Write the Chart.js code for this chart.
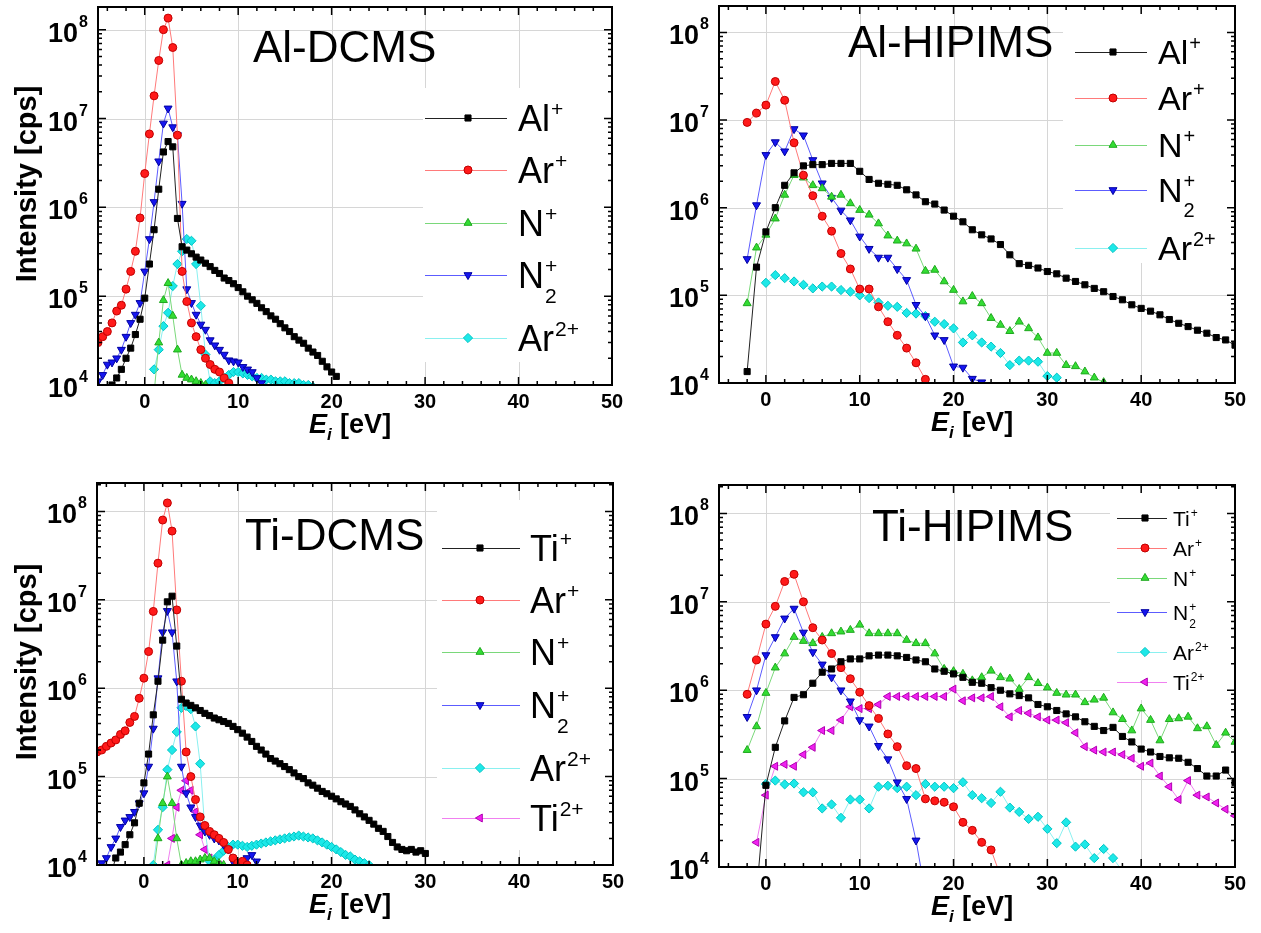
<!DOCTYPE html>
<html>
<head>
<meta charset="utf-8">
<script src="https://cdn.jsdelivr.net/npm/chart.js@4.4.0/dist/chart.umd.min.js"></script>
<style>
  body { margin: 0; background: #fff; width: 1261px; height: 933px; position: relative; overflow: hidden; }
  canvas { position: absolute; }
</style>
</head>
<body>
<canvas id="alDcms" width="630" height="465" style="left:0;top:0"></canvas>
<canvas id="alHip" width="631" height="465" style="left:630px;top:0"></canvas>
<canvas id="tiDcms" width="630" height="468" style="left:0;top:465px"></canvas>
<canvas id="tiHip" width="631" height="468" style="left:630px;top:465px"></canvas>
<script>
// axis ticks
const X_MIN = -5, X_MAX = 50, Y_MIN = 1e4;
const xTickValues = [0, 10, 20, 30, 40, 50];
const yTickValues = [1e4, 1e5, 1e6, 1e7, 1e8];

// ---- Al-DCMS : [E_i (eV), intensity (cps)] ----
const alDcmsAlPlus = [[-4,9.0e3],[-3.5,1.0e4],[-3,1.2e4],[-2.5,1.5e4],[-2,2.0e4],[-1.5,2.6e4],[-1,3.7e4],[-0.5,5.5e4],[0,9.5e4],[0.5,2.3e5],[1,5.6e5],[1.5,1.6e6],[2,4.2e6],[2.5,5.5e6],[3,4.8e6],[3.5,7.5e5],[4,3.6e5],[4.5,3.3e5],[5,3.0e5],[5.5,2.75e5],[6,2.55e5],[6.5,2.35e5],[7,2.15e5],[7.5,1.95e5],[8,1.8e5],[8.5,1.6e5],[9,1.5e5],[9.5,1.38e5],[10,1.25e5],[10.5,1.12e5],[11,1.0e5],[11.5,9.1e4],[12,8.3e4],[12.5,7.4e4],[13,6.7e4],[13.5,6.0e4],[14,5.5e4],[14.5,4.9e4],[15,4.4e4],[15.5,4.0e4],[16,3.5e4],[16.5,3.2e4],[17,2.95e4],[17.5,2.6e4],[18,2.35e4],[18.5,2.15e4],[19,1.85e4],[19.5,1.6e4],[20,1.4e4],[20.5,1.25e4]];
const alDcmsArPlus = [[-5,3.0e4],[-4.5,3.5e4],[-4,4.0e4],[-3.5,5.0e4],[-3,6.8e4],[-2.5,7.9e4],[-2,1.2e5],[-1.5,1.9e5],[-1,3.2e5],[-0.5,7.6e5],[0,2.4e6],[0.5,6.7e6],[1,1.8e7],[1.5,4.5e7],[2,1.0e8],[2.5,1.35e8],[3,6.3e7],[3.5,6.5e6],[4,1.9e5],[4.5,8.7e4],[5,5.0e4],[5.5,3.5e4],[6,2.5e4],[6.5,2.0e4],[7,1.7e4],[7.5,1.5e4],[8,1.4e4],[8.5,1.2e4],[9,1.05e4],[9.5,9.0e3]];
const alDcmsNPlus = [[1,8.0e3],[1.5,3.0e4],[2,9.0e4],[2.5,1.4e5],[3,6.0e4],[3.5,2.5e4],[4,1.3e4],[4.5,1.2e4],[5,1.15e4],[5.5,1.1e4],[6,1.05e4],[6.5,1.0e4]];
const alDcmsN2Plus = [[-5,1.1e4],[-4.5,1.3e4],[-4,1.7e4],[-3.5,1.8e4],[-3,2.0e4],[-2.5,2.5e4],[-2,3.5e4],[-1.5,5.0e4],[-1,6.2e4],[-0.5,8.4e4],[0,1.9e5],[0.5,4.4e5],[1,1.15e6],[1.5,3.3e6],[2,8.8e6],[2.5,1.3e7],[3,8.0e6],[3.5,6.5e6],[4,1.1e6],[4.5,1.2e5],[5,8.4e4],[5.5,6.2e4],[6,4.8e4],[6.5,4.2e4],[7,3.2e4],[7.5,2.8e4],[8,2.5e4],[8.5,2.2e4],[9,1.9e4],[9.5,1.85e4],[10,1.8e4],[10.5,1.6e4],[11,1.5e4],[11.5,1.4e4],[12,1.2e4],[12.5,1.05e4]];
const alDcmsAr2Plus = [[1,1.5e4],[1.5,2.5e4],[2,4.6e4],[2.5,6.5e4],[3,1.3e5],[3.5,2.3e5],[4,3.2e5],[4.5,4.4e5],[5,4.2e5],[5.5,2.3e5],[6,7.8e4],[6.5,2.2e4],[7,1.1e4],[7.5,1.05e4],[8,1.1e4],[8.5,1.2e4],[9,1.3e4],[9.5,1.4e4],[10,1.4e4],[10.5,1.35e4],[11,1.3e4],[11.5,1.25e4],[12,1.2e4],[12.5,1.2e4],[13,1.15e4],[13.5,1.15e4],[14,1.1e4],[14.5,1.1e4],[15,1.1e4],[15.5,1.05e4],[16,1.05e4],[16.5,1.05e4],[17,1.0e4],[17.5,1.0e4],[18,9.5e3]];

// ---- Al-HIPIMS ----
const alHipAlPlus = [[-2,1.35e4],[-1,2.1e5],[0,5.3e5],[1,1.0e6],[2,1.8e6],[3,2.5e6],[4,3.0e6],[5,3.1e6],[6,3.1e6],[7,3.2e6],[8,3.2e6],[9,3.2e6],[10,2.6e6],[11,2.1e6],[12,1.9e6],[13,1.85e6],[14,1.8e6],[15,1.6e6],[16,1.4e6],[17,1.17e6],[18,1.1e6],[19,9.4e5],[20,8.0e5],[21,6.9e5],[22,5.6e5],[23,4.9e5],[24,4.4e5],[25,3.8e5],[26,2.9e5],[27,2.3e5],[28,2.2e5],[29,2.05e5],[30,1.87e5],[31,1.76e5],[32,1.57e5],[33,1.44e5],[34,1.32e5],[35,1.2e5],[36,1.1e5],[37,9.7e4],[38,8.9e4],[39,7.8e4],[40,7.1e4],[41,6.6e4],[42,6.0e4],[43,5.3e4],[44,4.8e4],[45,4.4e4],[46,4.0e4],[47,3.7e4],[48,3.3e4],[49,3.1e4],[50,2.7e4]];
const alHipArPlus = [[-2,9.4e6],[-1,1.2e7],[0,1.48e7],[1,2.75e7],[2,1.68e7],[3,5.5e6],[4,2.35e6],[5,1.37e6],[6,8.0e5],[7,5.4e5],[8,3.0e5],[9,2.0e5],[10,1.18e5],[11,1.18e5],[12,7.4e4],[13,5.0e4],[14,3.5e4],[15,2.5e4],[16,1.7e4],[17,1.1e4],[18,7.0e3]];
const alHipNPlus = [[-2,8.1e4],[-1,3.5e5],[0,4.9e5],[1,7.5e5],[2,1.4e6],[3,2.35e6],[4,2.2e6],[5,1.8e6],[6,1.66e6],[7,1.33e6],[8,1.4e6],[9,1.12e6],[10,9.4e5],[11,8.3e5],[12,6.6e5],[13,4.8e5],[14,4.2e5],[15,3.9e5],[16,3.4e5],[17,1.9e5],[18,1.95e5],[19,1.44e5],[20,1.15e5],[21,8.5e4],[22,9.8e4],[23,8.1e4],[24,5.5e4],[25,4.6e4],[26,3.9e4],[27,5.0e4],[28,4.2e4],[29,3.3e4],[30,2.2e4],[31,2.2e4],[32,1.6e4],[33,1.55e4],[34,1.35e4],[35,1.15e4],[36,1.02e4],[37,9.0e3]];
const alHipN2Plus = [[-2,2.6e5],[-1,1.07e6],[0,4.0e6],[1,5.6e6],[2,4.4e6],[3,7.9e6],[4,6.7e6],[5,3.5e6],[6,1.9e6],[7,1.3e6],[8,9.3e5],[9,7.2e5],[10,4.7e5],[11,3.4e5],[12,2.7e5],[13,2.7e5],[14,2.0e5],[15,1.5e5],[16,7.8e4],[17,5.8e4],[18,3.5e4],[19,3.1e4],[20,1.55e4],[21,1.5e4],[22,1.12e4],[23,1.02e4],[24,9.0e3]];
const alHipAr2Plus = [[0,1.39e5],[1,1.7e5],[2,1.57e5],[3,1.44e5],[4,1.32e5],[5,1.2e5],[6,1.26e5],[7,1.26e5],[8,1.15e5],[9,1.1e5],[10,1.0e5],[11,9.3e4],[12,8.3e4],[13,7.6e4],[14,7.4e4],[15,6.3e4],[16,6.2e4],[17,5.8e4],[18,5.0e4],[19,4.7e4],[20,4.2e4],[21,2.9e4],[22,3.5e4],[23,2.9e4],[24,2.6e4],[25,2.2e4],[26,1.6e4],[27,1.8e4],[28,1.8e4],[29,1.75e4],[30,1.2e4],[31,1.15e4],[32,9.0e3]];

// ---- Ti-DCMS ----
const tiDcmsTiPlus = [[-3.5,8.0e3],[-3,1.2e4],[-2.5,1.4e4],[-2,1.7e4],[-1.5,2.2e4],[-1,3.0e4],[-0.5,5.0e4],[0,8.5e4],[0.5,1.8e5],[1,5.0e5],[1.5,1.2e6],[2,3.5e6],[2.5,9.5e6],[3,1.1e7],[3.5,3.0e6],[4,7.5e5],[4.5,6.8e5],[5,6.4e5],[5.5,6.0e5],[6,5.6e5],[6.5,5.2e5],[7,4.9e5],[7.5,4.6e5],[8,4.4e5],[8.5,4.2e5],[9,4.0e5],[9.5,3.7e5],[10,3.4e5],[10.5,3.1e5],[11,2.8e5],[11.5,2.5e5],[12,2.2e5],[12.5,2.0e5],[13,1.8e5],[13.5,1.6e5],[14,1.5e5],[14.5,1.4e5],[15,1.3e5],[15.5,1.2e5],[16,1.1e5],[16.5,1.0e5],[17,9.5e4],[17.5,8.5e4],[18,8.0e4],[18.5,7.4e4],[19,6.8e4],[19.5,6.4e4],[20,6.0e4],[20.5,5.6e4],[21,5.2e4],[21.5,4.9e4],[22,4.6e4],[22.5,4.2e4],[23,3.8e4],[23.5,3.5e4],[24,3.2e4],[24.5,2.9e4],[25,2.6e4],[25.5,2.4e4],[26,2.1e4],[26.5,1.8e4],[27,1.6e4],[27.5,1.5e4],[28,1.45e4],[28.5,1.5e4],[29,1.4e4],[29.5,1.45e4],[30,1.35e4]];
const tiDcmsArPlus = [[-5,1.9e5],[-4.5,2.0e5],[-4,2.2e5],[-3.5,2.4e5],[-3,2.6e5],[-2.5,3.0e5],[-2,3.3e5],[-1.5,4.1e5],[-1,4.8e5],[-0.5,7.7e5],[0,1.3e6],[0.5,2.6e6],[1,7.4e6],[1.5,2.6e7],[2,8.0e7],[2.5,1.25e8],[3,6.0e7],[3.5,7.7e6],[4,1.2e6],[4.5,1.9e5],[5,1.0e5],[5.5,5.5e4],[6,3.5e4],[6.5,2.8e4],[7,2.4e4],[7.5,2.2e4],[8,2.0e4],[8.5,1.8e4],[9,1.5e4],[9.5,1.2e4],[10,1.05e4],[10.5,1.1e4],[11,1.0e4]];
const tiDcmsNPlus = [[1,8.0e3],[1.5,2.0e4],[2,5.0e4],[2.5,1.0e5],[3,5.0e4],[3.5,2.0e4],[4,1.0e4],[4.5,1.05e4],[5,1.1e4],[5.5,1.1e4],[6,1.15e4],[6.5,1.2e4],[7,1.2e4],[7.5,1.1e4],[8,1.05e4],[8.5,1.0e4]];
const tiDcmsN2Plus = [[-5,9.0e3],[-4.5,1.05e4],[-4,1.2e4],[-3.5,1.6e4],[-3,2.0e4],[-2.5,2.7e4],[-2,3.2e4],[-1.5,3.5e4],[-1,4.0e4],[-0.5,5.0e4],[0,6.5e4],[0.5,1.3e5],[1,3.5e5],[1.5,1.3e6],[2,4.3e6],[2.5,7.5e6],[3,4.3e6],[3.5,1.2e6],[4,1.3e5],[4.5,6.5e4],[5,4.5e4],[5.5,3.5e4],[6,2.8e4],[6.5,2.4e4],[7,2.2e4],[7.5,2.0e4],[8,1.9e4],[8.5,1.7e4],[9,1.5e4],[9.5,1.1e4],[10,1.0e4],[10.5,1.05e4],[11,1.2e4],[11.5,1.3e4],[12,1.1e4]];
const tiDcmsAr2Plus = [[1,1.0e4],[1.5,2.5e4],[2,4.5e4],[2.5,1.2e5],[3,2.0e5],[3.5,3.2e5],[4,6.0e5],[4.5,6.3e5],[5,5.8e5],[5.5,3.7e5],[6,1.4e5],[6.5,2.5e4],[7,1.1e4],[7.5,1.15e4],[8,1.3e4],[8.5,1.45e4],[9,1.6e4],[9.5,1.7e4],[10,1.7e4],[10.5,1.65e4],[11,1.6e4],[11.5,1.65e4],[12,1.7e4],[12.5,1.75e4],[13,1.8e4],[13.5,1.85e4],[14,1.9e4],[14.5,1.95e4],[15,2.0e4],[15.5,2.05e4],[16,2.1e4],[16.5,2.15e4],[17,2.1e4],[17.5,2.05e4],[18,2.0e4],[18.5,1.9e4],[19,1.8e4],[19.5,1.7e4],[20,1.6e4],[20.5,1.5e4],[21,1.4e4],[21.5,1.3e4],[22,1.25e4],[22.5,1.15e4],[23,1.1e4],[23.5,1.05e4],[24,1.0e4]];
const tiDcmsTi2Plus = [[2.5,1.0e4],[3,2.0e4],[3.5,4.5e4],[4,7.0e4],[4.5,9.0e4],[5,7.0e4],[5.5,4.0e4],[6,2.2e4],[6.5,1.5e4],[7,1.2e4],[7.5,1.1e4],[8,1.0e4]];

// ---- Ti-HIPIMS ----
const tiHipTiPlus = [[-1,5.0e3],[0,8.4e4],[1,2.26e5],[2,4.5e5],[3,8.3e5],[4,8.9e5],[5,1.2e6],[6,1.6e6],[7,1.74e6],[8,2.1e6],[9,2.26e6],[10,2.26e6],[11,2.45e6],[12,2.5e6],[13,2.5e6],[14,2.45e6],[15,2.35e6],[16,2.2e6],[17,2.1e6],[18,1.74e6],[19,1.64e6],[20,1.53e6],[21,1.4e6],[22,1.23e6],[23,1.2e6],[24,1.07e6],[25,1.0e6],[26,9.1e5],[27,8.7e5],[28,8.2e5],[29,6.9e5],[30,6.5e5],[31,5.9e5],[32,5.4e5],[33,5.0e5],[34,4.4e5],[35,3.9e5],[36,3.5e5],[37,3.8e5],[38,3.0e5],[39,2.6e5],[40,2.16e5],[41,2.0e5],[42,1.78e5],[43,1.72e5],[44,1.7e5],[45,1.53e5],[46,1.3e5],[47,1.07e5],[48,1.07e5],[49,1.25e5],[50,9.0e4]];
const tiHipArPlus = [[-2,9.0e5],[-1,2.2e6],[0,5.6e6],[1,8.9e6],[2,1.7e7],[3,2.05e7],[4,1.0e7],[5,5.1e6],[6,3.7e6],[7,2.6e6],[8,1.8e6],[9,1.35e6],[10,9.5e5],[11,6.7e5],[12,4.8e5],[13,3.2e5],[14,2.3e5],[15,1.4e5],[16,1.3e5],[17,5.9e4],[18,5.6e4],[19,5.4e4],[20,4.8e4],[21,3.2e4],[22,2.6e4],[23,1.9e4],[24,1.56e4],[25,8.0e3]];
const tiHipNPlus = [[-2,2.1e5],[-1,3.9e5],[0,9.3e5],[1,1.8e6],[2,2.6e6],[3,4.0e6],[4,3.6e6],[5,3.4e6],[6,4.0e6],[7,4.4e6],[8,4.6e6],[9,4.8e6],[10,5.5e6],[11,4.4e6],[12,4.4e6],[13,4.4e6],[14,4.4e6],[15,3.7e6],[16,3.4e6],[17,3.4e6],[18,2.6e6],[19,1.74e6],[20,1.64e6],[21,1.53e6],[22,1.29e6],[23,1.4e6],[24,1.66e6],[25,1.4e6],[26,1.35e6],[27,1.03e6],[28,1.4e6],[29,1.2e6],[30,1.07e6],[31,9.3e5],[32,8.9e5],[33,8.9e5],[34,7.3e5],[35,7.8e5],[36,8.2e5],[37,5.6e5],[38,4.7e5],[39,3.5e5],[40,6.2e5],[41,4.6e5],[42,2.7e5],[43,4.7e5],[44,4.8e5],[45,5.0e5],[46,3.7e5],[47,3.9e5],[48,2.4e5],[49,3.3e5],[50,2.6e5]];
const tiHipN2Plus = [[-2,5.0e5],[-1,1.0e6],[0,2.5e6],[1,4.0e6],[2,6.5e6],[3,8.4e6],[4,4.5e6],[5,2.7e6],[6,1.96e6],[7,1.4e6],[8,1.0e6],[9,7.5e5],[10,4.6e5],[11,3.9e5],[12,2.35e5],[13,1.66e5],[14,9.1e4],[15,5.9e4],[16,2.0e4],[17,5.0e3]];
const tiHipAr2Plus = [[0,8.7e4],[1,9.5e4],[2,8.6e4],[3,8.8e4],[4,7.0e4],[5,7.0e4],[6,4.6e4],[7,5.1e4],[8,3.6e4],[9,5.8e4],[10,5.8e4],[11,4.6e4],[12,8.1e4],[13,8.3e4],[14,7.8e4],[15,8.1e4],[16,6.5e4],[17,8.7e4],[18,8.1e4],[19,8.1e4],[20,7.8e4],[21,9.1e4],[22,6.5e4],[23,6.0e4],[24,5.3e4],[25,7.1e4],[26,4.7e4],[27,4.2e4],[28,3.5e4],[29,3.7e4],[30,2.7e4],[31,1.86e4],[32,3.2e4],[33,1.7e4],[34,1.8e4],[35,1.26e4],[36,1.6e4],[37,1.26e4],[38,9.0e3]];
const tiHipTi2Plus = [[-1,1.9e4],[0,6.5e4],[1,1.38e5],[2,1.45e5],[3,1.38e5],[4,1.87e5],[5,2.26e5],[6,3.5e5],[7,3.5e5],[8,4.6e5],[9,6.5e5],[10,6.2e5],[11,6.2e5],[12,6.9e5],[13,8.5e5],[14,8.5e5],[15,8.5e5],[16,8.5e5],[17,8.5e5],[18,8.5e5],[19,8.5e5],[20,1.03e6],[21,7.6e5],[22,8.2e5],[23,8.2e5],[24,8.5e5],[25,6.5e5],[26,5.0e5],[27,5.9e5],[28,5.5e5],[29,5.0e5],[30,4.6e5],[31,4.6e5],[32,4.3e5],[33,3.3e5],[34,2.3e5],[35,2.1e5],[36,2.0e5],[37,2.0e5],[38,1.87e5],[39,1.7e5],[40,1.38e5],[41,1.5e5],[42,1.07e5],[43,8.1e4],[44,5.8e4],[45,9.5e4],[46,6.5e4],[47,6.2e4],[48,5.3e4],[49,4.5e4],[50,3.8e4]];

// legend labels (base text, superscript, subscript)
const lblAl = {b: 'Al', sup: '+'};
const lblTi = {b: 'Ti', sup: '+'};
const lblAr = {b: 'Ar', sup: '+'};
const lblN = {b: 'N', sup: '+'};
const lblN2 = {b: 'N', sup: '+', sub: '2'};
const lblAr2 = {b: 'Ar', sup: '2+'};
const lblTi2 = {b: 'Ti', sup: '2+'};

// marker / line look per ion colour
const ION = {
  black:   {shape: 'rect',     rot: 0,   r: 4.3, fill: '#000000', edge: '#000000', line: '#222222'},
  red:     {shape: 'circle',   rot: 0,   r: 4,   fill: '#ff1a1a', edge: '#c00000', line: '#ff7a7a'},
  green:   {shape: 'triangle', rot: 0,   r: 4.6, fill: '#33dd33', edge: '#1fa81f', line: '#7ad87a'},
  blue:    {shape: 'triangle', rot: 180, r: 4.6, fill: '#1515f0', edge: '#0000a0', line: '#5c5cff'},
  cyan:    {shape: 'rectRot',  rot: 0,   r: 4.6, fill: '#1de8e8', edge: '#00c4c4', line: '#8af0f0'},
  magenta: {shape: 'triangle', rot: 270, r: 4.6, fill: '#f020f0', edge: '#b000b0', line: '#f080f0'}
};

const FONT = '"Liberation Sans", Arial, sans-serif';

const panels = [
  {
    id: 'alDcms', yMax: 1.8e8, yTitle: true,
    pad: {left: 98, top: 7, right: 18, bottom: 80},
    title: {text: 'Al-DCMS', x: 253, y: 62},
    legend: {box: [423, 88, 362], x0: 425, x1: 507, xm: 468, xt: 518, rows: [118, 170, 223, 275, 338], size: 36},
    series: [
      {pts: alDcmsAlPlus, ion: 'black', lab: lblAl},
      {pts: alDcmsArPlus, ion: 'red', lab: lblAr},
      {pts: alDcmsNPlus, ion: 'green', lab: lblN},
      {pts: alDcmsN2Plus, ion: 'blue', lab: lblN2},
      {pts: alDcmsAr2Plus, ion: 'cyan', lab: lblAr2}
    ]
  },
  {
    id: 'alHip', yMax: 2.0e8, yTitle: false,
    pad: {left: 89, top: 6, right: 26, bottom: 82},
    title: {text: 'Al-HIPIMS', x: 218, y: 57},
    legend: {box: [433, 6, 263], x0: 445, x1: 517, xm: 483, xt: 528, rows: [52, 98, 145, 190, 248], size: 34},
    series: [
      {pts: alHipAlPlus, ion: 'black', lab: lblAl},
      {pts: alHipArPlus, ion: 'red', lab: lblAr},
      {pts: alHipNPlus, ion: 'green', lab: lblN},
      {pts: alHipN2Plus, ion: 'blue', lab: lblN2},
      {pts: alHipAr2Plus, ion: 'cyan', lab: lblAr2}
    ]
  },
  {
    id: 'tiDcms', yMax: 2.1e8, yTitle: true,
    pad: {left: 97, top: 18, right: 17, bottom: 68},
    title: {text: 'Ti-DCMS', x: 245, y: 85},
    legend: {box: [437, 35, 385], x0: 442, x1: 520, xm: 480, xt: 530, rows: [83, 135, 187, 240, 303, 353], size: 36},
    series: [
      {pts: tiDcmsTiPlus, ion: 'black', lab: lblTi},
      {pts: tiDcmsArPlus, ion: 'red', lab: lblAr},
      {pts: tiDcmsNPlus, ion: 'green', lab: lblN},
      {pts: tiDcmsN2Plus, ion: 'blue', lab: lblN2},
      {pts: tiDcmsAr2Plus, ion: 'cyan', lab: lblAr2},
      {pts: tiDcmsTi2Plus, ion: 'magenta', lab: lblTi2}
    ]
  },
  {
    id: 'tiHip', yMax: 2.1e8, yTitle: false,
    pad: {left: 89, top: 20, right: 26, bottom: 66},
    title: {text: 'Ti-HIPIMS', x: 242, y: 76},
    legend: {box: [480, 20, 235], x0: 487, x1: 537, xm: 515, xt: 543, rows: [53, 83, 113, 147, 187, 217], size: 21},
    series: [
      {pts: tiHipTiPlus, ion: 'black', lab: lblTi},
      {pts: tiHipArPlus, ion: 'red', lab: lblAr},
      {pts: tiHipNPlus, ion: 'green', lab: lblN},
      {pts: tiHipN2Plus, ion: 'blue', lab: lblN2},
      {pts: tiHipAr2Plus, ion: 'cyan', lab: lblAr2},
      {pts: tiHipTi2Plus, ion: 'magenta', lab: lblTi2}
    ]
  }
];

function drawIonLabel(ctx, lab, x, y, size) {
  ctx.fillStyle = '#000';
  ctx.textAlign = 'left';
  ctx.textBaseline = 'alphabetic';
  ctx.font = size + 'px ' + FONT;
  const base = y + size * 0.36;
  ctx.fillText(lab.b, x, base);
  const w = ctx.measureText(lab.b).width;
  ctx.font = Math.round(size * 0.58) + 'px ' + FONT;
  ctx.fillText(lab.sup, x + w + 1, base - size * 0.42);
  if (lab.sub) ctx.fillText(lab.sub, x + w + 1, base + size * 0.42);
}

function decor(p) {
  return {
    id: 'decor',
    beforeDatasetsDraw(chart) {
      const {ctx, chartArea: a, scales: {x, y}} = chart;
      ctx.save();
      ctx.strokeStyle = '#d6d6d6';
      ctx.lineWidth = 1;
      ctx.beginPath();
      xTickValues.forEach(v => {
        const px = Math.round(x.getPixelForValue(v)) + 0.5;
        if (px > a.left + 2 && px < a.right - 2) { ctx.moveTo(px, a.top); ctx.lineTo(px, a.bottom); }
      });
      yTickValues.forEach(v => {
        const py = Math.round(y.getPixelForValue(v)) + 0.5;
        if (py > a.top + 2 && py < a.bottom - 2) { ctx.moveTo(a.left, py); ctx.lineTo(a.right, py); }
      });
      ctx.stroke();
      // legend background hides the grid
      const b = p.legend.box;
      ctx.fillStyle = '#fff';
      ctx.fillRect(b[0], b[1], a.right - b[0], b[2] - b[1]);
      ctx.restore();
    },
    afterDraw(chart) {
      const {ctx, chartArea: a, scales: {x, y}} = chart;
      ctx.save();
      // frame
      ctx.strokeStyle = '#000';
      ctx.lineWidth = 2;
      ctx.strokeRect(a.left, a.top, a.right - a.left, a.bottom - a.top);
      // inward ticks on all four sides
      ctx.lineWidth = 1.5;
      ctx.beginPath();
      const xt = (v, len) => {
        const px = x.getPixelForValue(v);
        ctx.moveTo(px, a.bottom); ctx.lineTo(px, a.bottom - len);
        ctx.moveTo(px, a.top); ctx.lineTo(px, a.top + len);
      };
      const yt = (v, len) => {
        const py = y.getPixelForValue(v);
        ctx.moveTo(a.left, py); ctx.lineTo(a.left + len, py);
        ctx.moveTo(a.right, py); ctx.lineTo(a.right - len, py);
      };
      xTickValues.forEach(v => xt(v, 8));
      for (let v = -4; v < X_MAX; v += 2) if (v % 10 !== 0) xt(v, 4);
      yTickValues.forEach(v => yt(v, 8));
      for (let k = 4; k <= 8; k++) {
        for (let m = 2; m <= 9; m++) {
          const v = m * Math.pow(10, k);
          if (v < p.yMax) yt(v, 4);
        }
      }
      ctx.stroke();

      // y tick labels 10^n
      ctx.fillStyle = '#000';
      ctx.textBaseline = 'alphabetic';
      ctx.textAlign = 'left';
      yTickValues.forEach(v => {
        const py = y.getPixelForValue(v);
        const e = String(Math.round(Math.log10(v)));
        ctx.font = 'bold 16px ' + FONT;
        const we = ctx.measureText(e).width;
        const right = a.left - 10;
        ctx.fillText(e, right - we, py - 3);
        ctx.font = 'bold 27px ' + FONT;
        const wm = ctx.measureText('10').width;
        ctx.fillText('10', right - we - 1 - wm, py + 12);
      });
      // x tick labels
      ctx.font = 'bold 20px ' + FONT;
      ctx.textAlign = 'center';
      xTickValues.forEach(v => ctx.fillText(String(v), x.getPixelForValue(v), a.bottom + 23));

      // x title: E_i [eV]
      ctx.textAlign = 'left';
      const f1 = 'italic bold 27px ' + FONT, f2 = 'italic bold 17px ' + FONT, f3 = 'bold 27px ' + FONT;
      ctx.font = f1; const wE = ctx.measureText('E').width;
      ctx.font = f2; const wi = ctx.measureText('i').width;
      ctx.font = f3; const wr = ctx.measureText(' [eV]').width;
      let tx = (a.left + a.right) / 2 - 5 - (wE + wi + 1 + wr) / 2;
      const tb = a.bottom + 48;
      ctx.font = f1; ctx.fillText('E', tx, tb); tx += wE;
      ctx.font = f2; ctx.fillText('i', tx, tb + 7); tx += wi + 1;
      ctx.font = f3; ctx.fillText(' [eV]', tx, tb);

      // y title
      if (p.yTitle) {
        ctx.save();
        ctx.translate(36, (a.top + a.bottom) / 2 - 12);
        ctx.rotate(-Math.PI / 2);
        ctx.textAlign = 'center';
        ctx.font = 'bold 29px ' + FONT;
        ctx.fillText('Intensity [cps]', 0, 0);
        ctx.restore();
      }

      // panel title
      ctx.textAlign = 'left';
      ctx.font = '44px ' + FONT;
      ctx.fillText(p.title.text, p.title.x, p.title.y);

      // legend
      const L = p.legend;
      p.series.forEach((s, i) => {
        const st = ION[s.ion];
        const ry = L.rows[i];
        ctx.strokeStyle = st.line;
        ctx.lineWidth = 1;
        ctx.beginPath();
        ctx.moveTo(L.x0, ry + 0.5); ctx.lineTo(L.x1, ry + 0.5);
        ctx.stroke();
        ctx.fillStyle = st.fill;
        ctx.strokeStyle = st.edge;
        Chart.helpers.drawPoint(ctx, {pointStyle: st.shape, rotation: st.rot, radius: st.r, borderWidth: 1}, L.xm, ry);
        drawIonLabel(ctx, s.lab, L.xt, ry, L.size);
      });
      ctx.restore();
    }
  };
}

function buildChart(p) {
  return new Chart(document.getElementById(p.id), {
    type: 'line',
    data: {
      datasets: p.series.map(s => {
        const st = ION[s.ion];
        return {
          label: s.lab.b + s.lab.sup,
          data: s.pts.map(([ex, iv]) => ({x: ex, y: iv})),
          borderColor: st.line,
          borderWidth: 1,
          tension: 0,
          pointStyle: st.shape,
          pointRotation: st.rot,
          pointRadius: st.r,
          pointBackgroundColor: st.fill,
          pointBorderColor: st.edge,
          pointBorderWidth: 1,
          clip: 0
        };
      })
    },
    options: {
      responsive: false,
      animation: false,
      events: [],
      layout: {padding: p.pad},
      plugins: {legend: {display: false}, tooltip: {enabled: false}, title: {display: false}},
      scales: {
        x: {type: 'linear', min: X_MIN, max: X_MAX, display: false},
        y: {type: 'logarithmic', min: Y_MIN, max: p.yMax, display: false}
      }
    },
    plugins: [decor(p)]
  });
}

panels.forEach(buildChart);
</script>
</body>
</html>
